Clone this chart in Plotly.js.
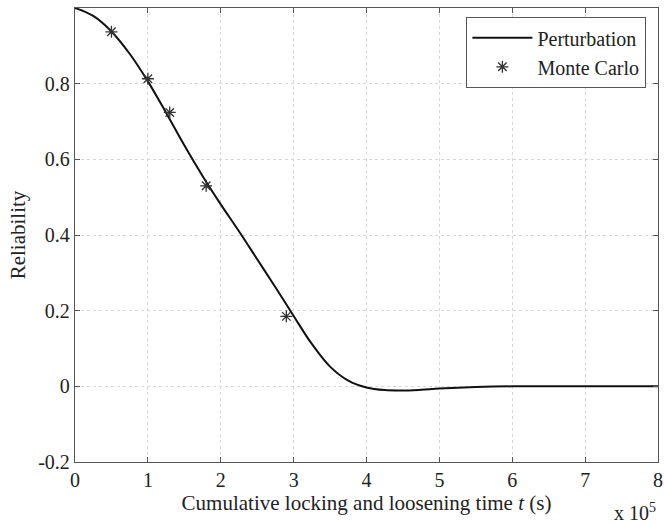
<!DOCTYPE html>
<html>
<head>
<meta charset="utf-8">
<script src="https://cdn.plot.ly/plotly-3.0.1.min.js"></script>
<style>html,body{margin:0;padding:0;background:#fff;}</style>
</head>
<body>
<div id="chart" style="width:664px;height:524px;"></div>
<script>
// Time in units of 10^5 s
const perturbX = [0, 0.25, 0.5, 0.75, 1.0, 1.25, 1.5, 1.75, 2.0, 2.25, 2.5, 2.75, 3.0, 3.25, 3.5, 3.75, 4.0, 4.25, 4.5, 4.75, 5.0, 5.5, 6.0, 7.0, 8.0];
const perturbY = [1.0, 0.979, 0.938, 0.879, 0.806, 0.723, 0.637, 0.556, 0.481, 0.41, 0.336, 0.262, 0.186, 0.112, 0.052, 0.015, -0.003, -0.01, -0.011, -0.009, -0.006, -0.002, 0, 0, 0];
const mcX = [0.5, 1.0, 1.3, 1.8, 2.9];
const mcY = [0.937, 0.813, 0.724, 0.53, 0.185];
const xTicks = [0, 1, 2, 3, 4, 5, 6, 7, 8];
const yTicks = [-0.2, 0, 0.2, 0.4, 0.6, 0.8];
const yTickText = ['-0.2', '0', '0.2', '0.4', '0.6', '0.8'];

const font = {family: 'Liberation Serif, Times New Roman, serif', size: 20, color: '#222'};
const titleFont = {family: 'Liberation Serif, Times New Roman, serif', size: 21, color: '#222'};

const traces = [
  {x: perturbX, y: perturbY, mode: 'lines', name: 'Perturbation',
   line: {color: '#111', width: 2, shape: 'spline', smoothing: 1}},
  {x: mcX, y: mcY, mode: 'markers', name: 'Monte Carlo',
   marker: {symbol: 'asterisk-open', size: 10, color: '#333', line: {color: '#333', width: 1.3}}}
];

const axisCommon = {
  showline: true, linecolor: '#555', linewidth: 1.2, mirror: 'ticks',
  ticks: 'inside', ticklen: 5, tickcolor: '#555',
  showgrid: true, gridcolor: '#d8d8d8', griddash: 'dot', gridwidth: 1,
  zeroline: false, tickfont: font
};

const layout = {
  width: 664, height: 524,
  margin: {l: 75, r: 6, t: 8, b: 62},
  paper_bgcolor: '#fff', plot_bgcolor: '#fff',
  font: font,
  showlegend: true,
  legend: {x: 0.671, y: 0.98, xanchor: 'left', yanchor: 'top',
    bordercolor: '#555', borderwidth: 1.2, bgcolor: '#fff',
    font: font, tracegroupgap: 0, itemwidth: 60},
  xaxis: Object.assign({}, axisCommon, {
    range: [0, 8], tickvals: xTicks, ticktext: xTicks.map(String),
    title: {text: 'Cumulative locking and loosening time <i>t</i> (s)', font: titleFont, standoff: 0}
  }),
  yaxis: Object.assign({}, axisCommon, {
    range: [-0.2, 1], tickvals: yTicks, ticktext: yTickText,
    title: {text: 'Reliability', font: titleFont, standoff: 6}
  }),
  annotations: [
    {xref: 'paper', yref: 'paper', x: 1.0, y: -0.11, xanchor: 'right', yanchor: 'middle',
     text: 'x 10<sup>5</sup>', showarrow: false, font: font}
  ]
};

Plotly.newPlot('chart', traces, layout, {displayModeBar: false, staticPlot: true});
</script>
</body>
</html>
